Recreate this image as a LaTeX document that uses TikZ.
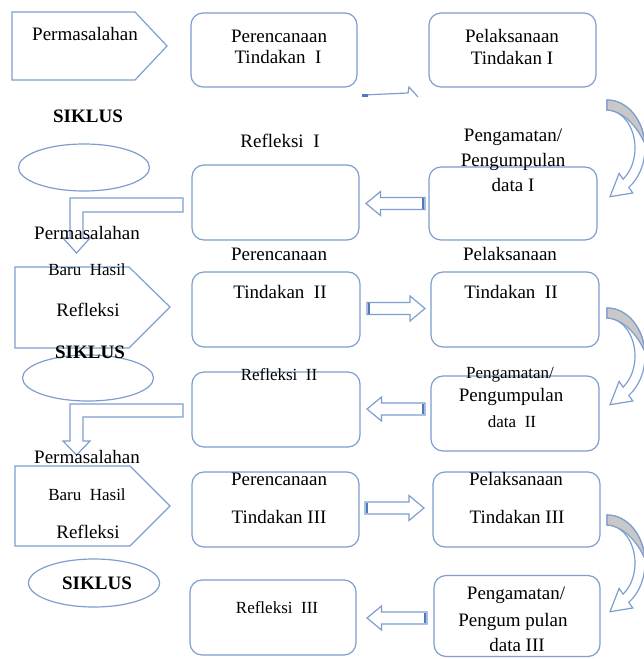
\documentclass[tikz,border=0pt]{standalone}
\usepackage{fontspec}
\setmainfont{Liberation Serif}
\usetikzlibrary{shapes.geometric}
\definecolor{ln}{RGB}{125,158,206}
\definecolor{tailc}{RGB}{80,120,190}
\definecolor{shadec}{RGB}{200,200,200}
\newcommand\blockL[3]{%
  \draw[barrow] (#1,#3) -- (#1+14.5,#3-12) -- (#1+14.5,#3-6) -- (#2,#3-6) -- (#2,#3+6) -- (#1+14.5,#3+6) -- (#1+14.5,#3+12) -- cycle;
  \fill[tailc] (#2-3,#3-5.4) rectangle (#2-0.6,#3+5.4);}
\newcommand\blockR[3]{%
  \draw[barrow] (#2,#3) -- (#2-15,#3-12.5) -- (#2-15,#3-6) -- (#1,#3-6) -- (#1,#3+6) -- (#2-15,#3+6) -- (#2-15,#3+12.5) -- cycle;
  \fill[tailc] (#1+0.6,#3-5.4) rectangle (#1+3,#3+5.4);}
\newcommand\curv[2]{%
  \begin{scope}[shift={(#1,#2)}]
    \draw[draw=ln, fill=white, line join=miter] (-90:38 and 48) arc[start angle=-90, end angle=55, x radius=38, y radius=48] -- (25.8,45.0) -- (3.0,48.7) -- (12.1,25.4) -- (55:28 and 38) arc[start angle=55, end angle=-90, x radius=28, y radius=38] -- cycle;
    \draw[draw=ln, fill=shadec] (-90:38 and 48) arc[start angle=-90, end angle=-5, x radius=38, y radius=48] .. controls (30,-22) and (16,-37) .. (0,-38) -- cycle;
  \end{scope}}
\begin{document}
\begin{tikzpicture}[x=1pt,y=-1pt, line width=1.2pt,
  box/.style={draw=ln, rounded corners=12pt, fill=white, inner sep=0pt},
  oval/.style={draw=ln, ellipse, inner sep=0pt},
  barrow/.style={draw=ln, fill=white, line join=miter},
  txt/.style={font=\fontsize{19}{21}\selectfont, inner sep=0pt, anchor=center},
  btxt/.style={font=\fontsize{19}{21}\selectfont\bfseries, inner sep=0pt, anchor=center},
  stxt/.style={font=\fontsize{17}{19}\selectfont, inner sep=0pt, anchor=center}]
\useasboundingbox (0,0) rectangle (644,659);

% boxes
\node[box, minimum width=166pt, minimum height=74pt] (pr1) at (274,50) {};
\node[box, minimum width=167pt, minimum height=74pt] (pl1) at (512.5,50) {};
\node[box, minimum width=167pt, minimum height=75pt] (rf1) at (275.5,202.5) {};
\node[box, minimum width=168pt, minimum height=73pt] (pg1) at (513,203.5) {};
\node[box, minimum width=168pt, minimum height=75pt] (pr2) at (276,309.5) {};
\node[box, minimum width=168pt, minimum height=75pt] (pl2) at (515,309.5) {};
\node[box, minimum width=168pt, minimum height=75pt] (rf2) at (276,409.5) {};
\node[box, minimum width=168pt, minimum height=75pt] (pg2) at (515,413.5) {};
\node[box, minimum width=167pt, minimum height=75pt] (pr3) at (275.5,509.5) {};
\node[box, minimum width=167pt, minimum height=75pt] (pl3) at (516.5,509.5) {};
\node[box, minimum width=166pt, minimum height=75pt] (rf3) at (273,617.5) {};
\node[box, minimum width=166pt, minimum height=81pt] (pg3) at (517,616) {};

% pentagons
\draw[ln] (12,12) -- (135,12) -- (167,46) -- (135,80) -- (12,80) -- cycle;
\draw[ln] (15,267) -- (129,267) -- (170,307) -- (129,348) -- (15,348) -- cycle;
\draw[ln] (15,466) -- (130,466) -- (170,506) -- (130,546) -- (15,546) -- cycle;

% ellipses
\node[oval, minimum width=131pt, minimum height=47pt] (e1) at (84,167.5) {};
\node[oval, minimum width=131pt, minimum height=46pt] (e2) at (88,378) {};
\node[oval, minimum width=131pt, minimum height=48pt] (e3) at (94,583) {};

% thin arrow row 1
\draw[ln] (363,95) -- (408,93) -- (409,87) -- (418,97);
\fill[tailc] (362,93.6) rectangle (368,96.6);

% block arrows
\blockL{366}{425}{203.5}
\blockR{367}{425}{308.5}
\blockL{367}{425}{409}
\blockR{365}{424}{508}
\blockL{367}{427}{618}

% bent arrows
\draw[barrow] (183,198) -- (70,198) -- (70,238) -- (63,238) -- (76.5,253) -- (90,238) -- (83,238) -- (83,212) -- (183,212) -- cycle;
\draw[barrow] (183,404) -- (70,404) -- (70,441) -- (63,441) -- (76.5,455) -- (90,441) -- (83,441) -- (83,417) -- (183,417) -- cycle;

% curved arrows
\curv{607}{148}
\curv{607}{356}
\curv{607}{563}

% texts row 1
\node[txt] (a1) at (85,34) {Permasalahan};
\node[txt] (a2) at (279,36) {Perencanaan};
\node[txt] (a3) at (278,57) {Tindakan\ \ I};
\node[txt] (a4) at (512,36) {Pelaksanaan};
\node[txt] (a5) at (512,58) {Tindakan I};
\node[btxt] (a6) at (88,116) {SIKLUS};
\node[txt] (a7) at (280,141) {Refleksi\ \ I};
\node[txt] (a8) at (513,137) {Pengamatan/};
\node[txt] (a9) at (513,162) {Pengumpulan};
\node[txt] (a10) at (513,185) {data I};

% texts row 2
\node[txt] (b1) at (87,233) {Permasalahan};
\node[stxt] (b2) at (87,270) {Baru\ \ Hasil};
\node[txt] (b3) at (88,310) {Refleksi};
\node[btxt] (b4) at (90,352) {SIKLUS};
\node[txt] (b5) at (279,254) {Perencanaan};
\node[txt] (b6) at (280,292) {Tindakan\ \ II};
\node[txt] (b7) at (510,254) {Pelaksanaan};
\node[txt] (b8) at (511,292) {Tindakan\ \ II};
\node[stxt] (b9) at (279,375) {Refleksi\ \ II};
\node[stxt] (b10) at (510,375) {Pengamatan/};
\node[txt] (b11) at (511,397) {Pengumpulan};
\node[stxt] (b12) at (512,422) {data\ \ II};

% texts row 3
\node[txt] (c1) at (87,457) {Permasalahan};
\node[stxt] (c2) at (87,495) {Baru\ \ Hasil};
\node[txt] (c3) at (88,532) {Refleksi};
\node[btxt] (c4) at (97,583) {SIKLUS};
\node[txt] (c5) at (279,479) {Perencanaan};
\node[txt] (c6) at (279,517) {Tindakan III};
\node[txt] (c7) at (516,479) {Pelaksanaan};
\node[txt] (c8) at (517,517) {Tindakan III};
\node[stxt] (c9) at (277,608) {Refleksi\ \ III};
\node[txt] (c10) at (516,595) {Pengamatan/};
\node[txt] (c11) at (513,622) {Pengum pulan};
\node[txt] (c12) at (517,645) {data III};
\end{tikzpicture}
\end{document}
